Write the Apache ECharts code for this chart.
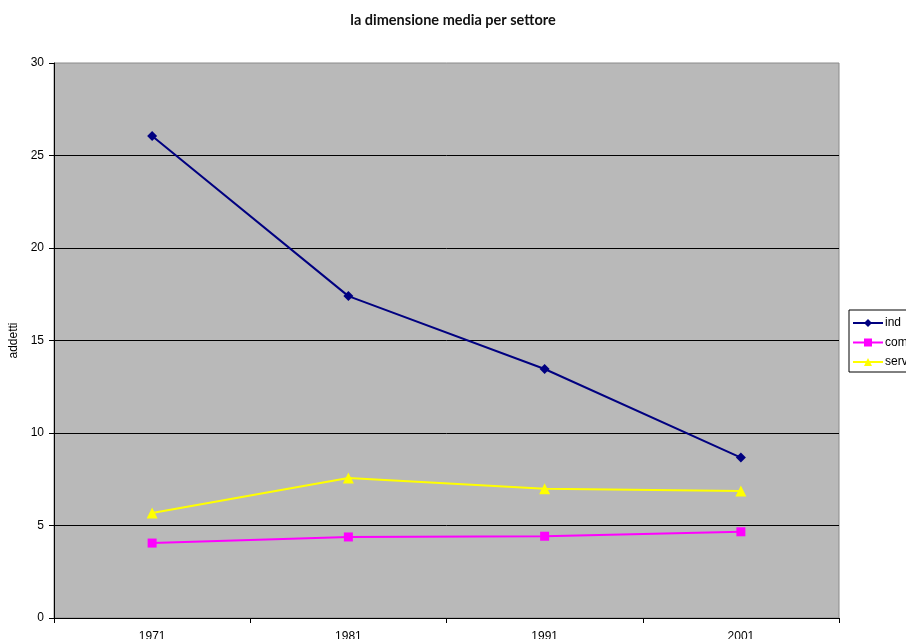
<!DOCTYPE html>
<html>
<head>
<meta charset="utf-8">
<script src="https://cdn.jsdelivr.net/npm/echarts@6/dist/echarts.min.js"></script>
<style>
  html, body { margin: 0; padding: 0; background: #fff; }
  #chart { width: 906px; height: 639px; }
</style>
</head>
<body>
<div id="chart"></div>
<script>
// Average number of employees per unit, by sector and census year
const years = ['1971', '1981', '1991', '2001'];
const ind = [26.05, 17.4, 13.46, 8.67];
const comm = [4.05, 4.38, 4.42, 4.66];
const serv = [5.67, 7.57, 6.98, 6.87];
const yTicks = { min: 0, max: 30, interval: 5 };

const chart = echarts.init(document.getElementById('chart'));
const font = 'Liberation Sans, Arial, sans-serif';

chart.setOption({
  animation: false,
  backgroundColor: '#ffffff',
  title: {
    text: 'la dimensione media per settore',
    left: 'center',
    top: 8,
    textStyle: { fontFamily: 'Lato, sans-serif', fontWeight: 'bold', fontSize: 14.5, color: '#111' }
  },
  grid: {
    left: 54, right: 67, top: 63, bottom: 21,
    outerBoundsMode: 'none',
    containLabel: false,
    show: true, backgroundColor: '#b9b9b9', borderColor: '#8a8a8a', borderWidth: 1
  },
  legend: {
    orient: 'vertical',
    left: 849, top: 310,
    backgroundColor: '#ffffff',
    borderColor: '#000', borderWidth: 1, borderRadius: 0,
    padding: [7, 8, 4, 3],
    itemWidth: 30, itemHeight: 10, itemGap: 7.5,
    textStyle: { fontFamily: font, fontSize: 12, color: '#000', padding: [0, 0, 0, -3] },
    data: ['ind', 'comm', 'serv']
  },
  xAxis: {
    type: 'category',
    data: years,
    boundaryGap: true,
    axisLine: { lineStyle: { color: '#000', width: 1 } },
    axisTick: { show: true, length: 5, lineStyle: { color: '#000' } },
    axisLabel: { color: '#000', fontFamily: font, fontSize: 12, margin: 13 },
    splitLine: { show: false }
  },
  yAxis: {
    type: 'value',
    min: yTicks.min, max: yTicks.max, interval: yTicks.interval,
    name: 'addetti',
    nameLocation: 'middle',
    nameGap: 33,
    nameRotate: 90,
    nameTextStyle: { color: '#000', fontFamily: font, fontSize: 12 },
    axisLine: { show: true, lineStyle: { color: '#000', width: 1 } },
    axisTick: { show: true, length: 5, lineStyle: { color: '#000' } },
    axisLabel: { color: '#000', fontFamily: font, fontSize: 12, margin: 10 },
    splitLine: { show: true, showMaxLine: false, lineStyle: { color: '#000', width: 1 } }
  },
  series: [
    {
      name: 'ind', type: 'line', data: ind,
      symbol: 'diamond', symbolSize: 10,
      lineStyle: { color: '#000080', width: 2 },
      itemStyle: { color: '#000080' }
    },
    {
      name: 'comm', type: 'line', data: comm,
      symbol: 'rect', symbolSize: 9,
      lineStyle: { color: '#ff00ff', width: 2 },
      itemStyle: { color: '#ff00ff' }
    },
    {
      name: 'serv', type: 'line', data: serv,
      symbol: 'triangle', symbolSize: 11,
      lineStyle: { color: '#ffff00', width: 2 },
      itemStyle: { color: '#ffff00' }
    }
  ]
});
</script>
</body>
</html>
